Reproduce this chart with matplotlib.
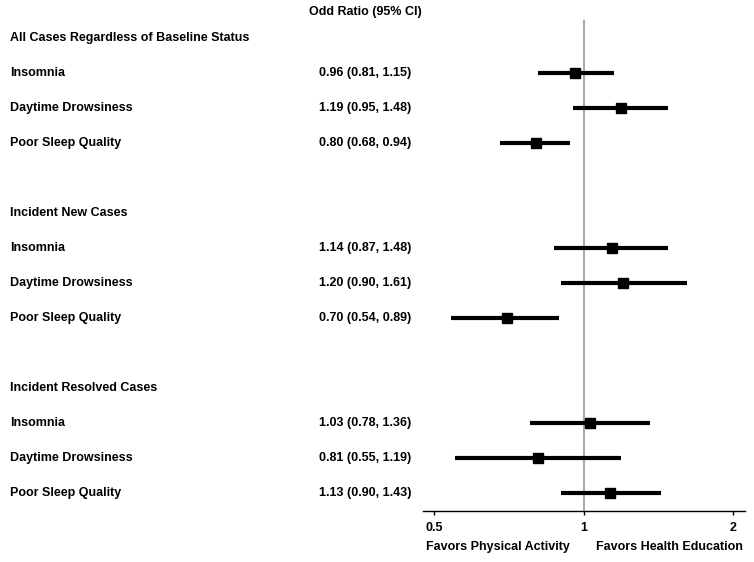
import matplotlib.pyplot as plt
import matplotlib.transforms as mtransforms
import numpy as np

plt.rcParams['font.family'] = ['Liberation Sans', 'DejaVu Sans']
plt.rcParams['font.weight'] = 'bold'

groups = ['All Cases Regardless of Baseline Status', 'Incident New Cases', 'Incident Resolved Cases']
outcomes = ['Insomnia', 'Daytime Drowsiness', 'Poor Sleep Quality']
odds = [[0.96, 1.19, 0.80], [1.14, 1.20, 0.70], [1.03, 0.81, 1.13]]
lower = [[0.81, 0.95, 0.68], [0.87, 0.90, 0.54], [0.78, 0.55, 0.90]]
upper = [[1.15, 1.48, 0.94], [1.48, 1.61, 0.89], [1.36, 1.19, 1.43]]
xticks = [0.5, 1, 2]

fig = plt.figure(figsize=(7.54, 5.62), dpi=100)
ax = fig.add_axes([423 / 754, 51 / 562, 322 / 754, 491 / 562])

trans = mtransforms.blended_transform_factory(fig.transFigure, ax.transData)
fs = 9

row = 0
for g, grp in enumerate(groups):
    fig.text(10 / 754, row, grp, transform=trans, ha='left', va='center', fontsize=fs, fontweight='bold')
    row += 1
    for k, name in enumerate(outcomes):
        fig.text(10 / 754, row, name, transform=trans, ha='left', va='center', fontsize=fs, fontweight='bold')
        fig.text(365 / 754, row, f'{odds[g][k]:.2f} ({lower[g][k]:.2f}, {upper[g][k]:.2f})',
                 transform=trans, ha='center', va='center', fontsize=fs, fontweight='bold')
        ax.plot([lower[g][k], upper[g][k]], [row, row], color='black', lw=3, solid_capstyle='butt', zorder=3)
        ax.plot(odds[g][k], row, marker='s', color='black', markersize=7, zorder=4)
        row += 1
    row += 1

ax.axvline(1, color='#999999', lw=1.2, zorder=1)

ax.set_xscale('log')
ax.set_xlim(0.475, 2.11)
ax.set_ylim(13.5, -0.5)
ax.set_xticks(xticks)
ax.set_xticklabels(['0.5', '1', '2'], fontsize=fs, fontweight='bold')
ax.xaxis.set_minor_locator(plt.NullLocator())
ax.set_yticks([])
for s in ['top', 'left', 'right']:
    ax.spines[s].set_visible(False)
ax.spines['bottom'].set_linewidth(1)
ax.tick_params(axis='x', length=3, width=1, pad=5)

fig.text(365 / 754, 1 - 12 / 562, 'Odd Ratio (95% CI)', ha='center', va='center', fontsize=fs, fontweight='bold')
fig.text(498 / 754, 1 - 547 / 562, 'Favors Physical Activity', ha='center', va='center', fontsize=fs, fontweight='bold')
fig.text(669 / 754, 1 - 547 / 562, 'Favors Health Education', ha='center', va='center', fontsize=fs, fontweight='bold')

fig.savefig('out.png', dpi=100)
